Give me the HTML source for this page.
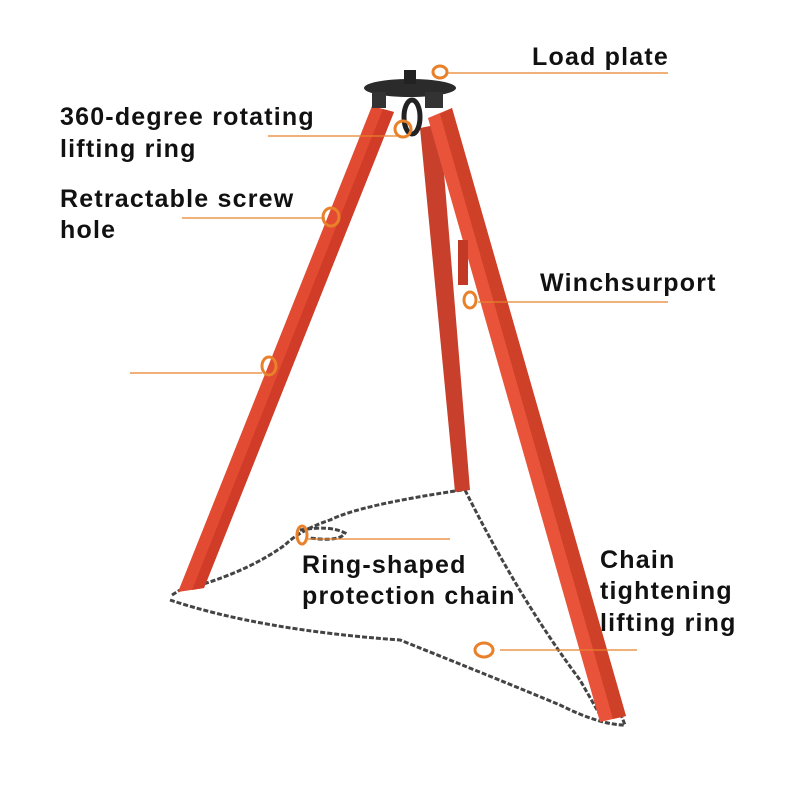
<!DOCTYPE html>
<html><head><style>
body{margin:0;background:#fff;}
svg{display:block}
text{font-family:"Liberation Sans",sans-serif;font-size:25px;fill:#111;letter-spacing:1.2px;font-weight:bold}
</style></head><body>
<svg width="800" height="800" viewBox="0 0 800 800">
<g fill="none" stroke="#444" stroke-width="3" stroke-dasharray="5 2">
<path d="M462 490 Q360 505 330 520 Q300 530 285 545 Q250 570 200 585"/>
<path d="M300 530 Q330 525 345 533 Q340 542 310 538"/>
<path d="M465 490 Q520 600 580 680 L600 715"/>
<path d="M170 600 Q260 630 400 640 Q500 680 560 705 Q600 725 625 725 L620 712"/>
<path d="M172 595 L180 590"/>
</g>
<polygon points="420,128 440,124 470,490 455,492" fill="#c8402c"/>
<polygon points="372,106 394,112 204,588 178,592" fill="#e24a32"/>
<polygon points="383,109 394,112 204,588 192,590" fill="#d03c28"/>
<polygon points="428,118 452,108 626,716 600,722" fill="#e8533a"/>
<polygon points="440,114 452,108 626,716 613,719" fill="#cf4029"/>
<rect x="458" y="240" width="10" height="45" fill="#c23a26"/>
<ellipse cx="410" cy="88" rx="46" ry="9" fill="#2b2b2b"/>
<rect x="404" y="70" width="12" height="14" fill="#222"/>
<rect x="372" y="92" width="14" height="16" fill="#333"/>
<rect x="425" y="92" width="18" height="16" fill="#333"/>
<ellipse cx="412" cy="117" rx="8" ry="17" fill="none" stroke="#222" stroke-width="5"/>
<g fill="none" stroke="#e8812a" stroke-width="1.3">
<line x1="448" y1="73" x2="668" y2="73"/>
<line x1="268" y1="136" x2="400" y2="136"/>
<line x1="182" y1="218" x2="325" y2="218"/>
<line x1="130" y1="373" x2="262" y2="373"/>
<line x1="478" y1="302" x2="668" y2="302"/>
<line x1="308" y1="539" x2="450" y2="539"/>
<line x1="500" y1="650" x2="637" y2="650"/>
</g>
<g fill="none" stroke="#e8812a" stroke-width="3">
<ellipse cx="440" cy="72" rx="7" ry="6"/>
<ellipse cx="403" cy="129" rx="8" ry="8"/>
<ellipse cx="331" cy="217" rx="8" ry="9"/>
<ellipse cx="269" cy="366" rx="7" ry="9"/>
<ellipse cx="470" cy="300" rx="6" ry="8"/>
<ellipse cx="302" cy="535" rx="5" ry="9"/>
<ellipse cx="484" cy="650" rx="9" ry="7"/>
</g>
<text x="532" y="65">Load plate</text>
<text x="60" y="125">360-degree rotating</text>
<text x="60" y="157">lifting ring</text>
<text x="60" y="207">Retractable screw</text>
<text x="60" y="238">hole</text>
<text x="540" y="291">Winchsurport</text>
<text x="302" y="573">Ring-shaped</text>
<text x="302" y="604">protection chain</text>
<text x="600" y="568">Chain</text>
<text x="600" y="599">tightening</text>
<text x="600" y="631">lifting ring</text>
</svg>
</body></html>
